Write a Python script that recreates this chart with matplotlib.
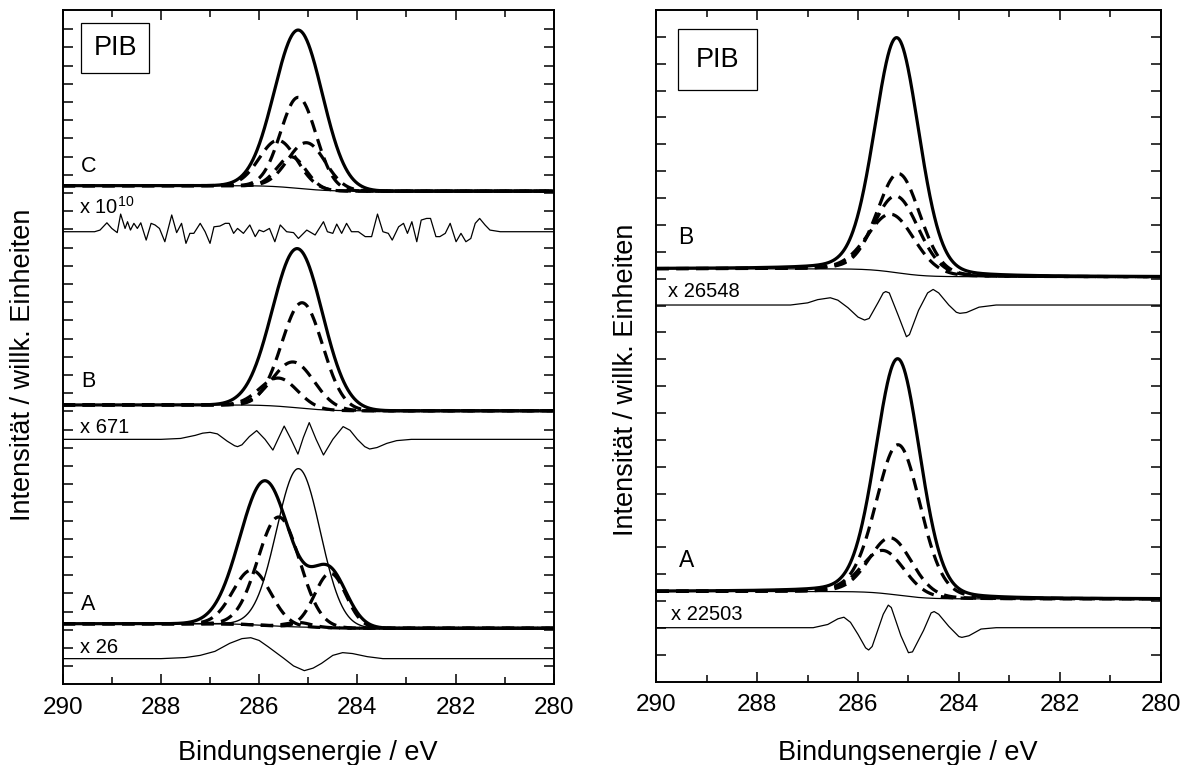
import numpy as np
import matplotlib
matplotlib.use("Agg")
import matplotlib.pyplot as plt
from matplotlib.patches import Rectangle

plt.rcParams['font.family'] = ['Liberation Sans', 'DejaVu Sans']
plt.rcParams['mathtext.fontset'] = 'custom'
plt.rcParams['mathtext.rm'] = 'Liberation Sans'

# ---------------- data ----------------
x_ticks = [290, 288, 286, 284, 282, 280]
x_tick_labels = ["290", "288", "286", "284", "282", "280"]

# Peak-fit parameters: centre (eV), height (a.u.), FWHM (eV)
# Left panel, spectrum C
lC_bg = [27.40, 27.10]                       # background level at 290 / 280 eV
lC_env_c = [285.20]; lC_env_h = [8.70]; lC_env_w = [1.15]
lC_cmp_c = [285.20, 285.61, 285.03, 285.34]
lC_cmp_h = [5.00, 2.55, 2.55, 1.70]
lC_cmp_w = [0.85, 0.90, 0.90, 0.70]
lC_res_e = [290.0, 289.35, 289.24, 289.10, 289.00, 288.89, 288.82, 288.73, 288.68, 288.62,
            288.55, 288.48, 288.41, 288.30, 288.20, 288.12, 288.03, 287.92, 287.78,
            287.68, 287.58, 287.49, 287.41, 287.33, 287.20, 287.10, 287.00, 286.92,
            286.80, 286.69, 286.61, 286.52, 286.44, 286.32, 286.19, 286.08, 286.00,
            285.91, 285.79, 285.68, 285.57, 285.44, 285.30, 285.20, 285.03, 284.86,
            284.69, 284.61, 284.50, 284.42, 284.32, 284.22, 284.12, 283.98, 283.84,
            283.71, 283.59, 283.48, 283.37, 283.29, 283.16, 283.06, 282.98, 282.89,
            282.79, 282.70, 282.59, 282.51, 282.40, 282.32, 282.21, 282.11, 281.99,
            281.89, 281.79, 281.69, 281.60, 281.51, 281.40, 281.30, 281.09, 280.0]
lC_res_v = [0.0, 0.0, 0.09, 0.49, 0.18, -0.05, 0.97, 0.18, 0.55, 0.09,
            0.46, 0.18, 0.49, -0.46, 0.46, 0.37, 0.18, -0.55, 0.92,
            -0.05, 0.46, -0.64, -0.09, -0.09, 0.46, 0.0, -0.64, 0.27,
            0.31, 0.46, 0.46, -0.09, 0.18, -0.09, 0.37, -0.27, 0.09,
            0.0, 0.18, -0.55, 0.37, 0.0, -0.05, -0.37, 0.09, -0.18,
            0.55, 0.0, -0.09, 0.42, -0.09, 0.46, 0.0, 0.0, -0.27,
            -0.27, 0.97, 0.0, -0.09, -0.46, 0.27, 0.46, -0.09, 0.55,
            -0.55, 0.64, 0.73, 0.73, -0.27, -0.27, -0.09, 0.46, -0.55,
            -0.09, -0.55, -0.37, 0.46, 0.73, 0.37, 0.09, 0.0, 0.0]

# Left panel, spectrum B
lB_bg = [15.35, 15.03]
lB_env_c = [285.22]; lB_env_h = [8.75]; lB_env_w = [1.20]
lB_cmp_c = [285.12, 285.30, 285.60]
lB_cmp_h = [5.80, 2.50, 1.55]
lB_cmp_w = [0.98, 1.00, 0.90]
lB_res_e = [290.0, 288.0, 287.6, 287.3, 287.15, 287.0, 286.85, 286.65, 286.5, 286.44,
            286.35, 286.2, 286.05, 285.88, 285.72, 285.60, 285.49, 285.35, 285.21,
            285.10, 284.98, 284.84, 284.69, 284.50, 284.29, 284.15, 284.0, 283.85,
            283.75, 283.6, 283.4, 283.2, 282.9, 280.0]
lB_res_v = [0.0, 0.0, 0.05, 0.22, 0.34, 0.385, 0.30, -0.10, -0.35, -0.40,
            -0.30, 0.15, 0.48, 0.0, -0.59, 0.10, 0.73, 0.0, -0.81,
            0.10, 0.92, 0.0, -0.86, 0.0, 0.70, 0.50, 0.0, -0.40,
            -0.53, -0.45, -0.22, -0.07, 0.0, 0.0]

# Left panel, spectrum A
lA_bg = [3.33, 3.08]
lA_env_c = [285.88, 284.58]; lA_env_h = [7.95, 3.10]; lA_env_w = [1.20, 0.85]
lA_ref_c = [285.20]; lA_ref_h = [8.70]; lA_ref_w = [1.05]      # thin solid peak
lA_cmp_c = [285.60, 286.15, 284.55, 285.20]
lA_cmp_h = [6.00, 3.00, 3.00, 0.25]
lA_cmp_w = [1.00, 0.90, 0.75, 0.60]
lA_res_e = [290.0, 288.0, 287.5, 287.2, 286.9, 286.6, 286.35, 286.17, 286.0, 285.82,
            285.5, 285.3, 285.08, 284.9, 284.73, 284.5, 284.3, 284.1, 283.8, 283.48,
            283.0, 280.0]
lA_res_v = [0.0, 0.0, 0.06, 0.18, 0.40, 0.84, 1.10, 1.15, 1.00, 0.66,
            0.02, -0.40, -0.66, -0.52, -0.26, 0.18, 0.33, 0.28, 0.11, 0.0,
            0.0, 0.0]

# Right panel, spectrum B
rB_bg = [15.37, 15.07]
rB_env_c = [285.23]; rB_env_h = [8.75]; rB_env_w = [1.04]
rB_cmp_c = [285.19, 285.24, 285.34]
rB_cmp_h = [3.70, 2.85, 2.15]
rB_cmp_w = [1.00, 1.05, 1.10]
rB_res_e = [290.0, 287.34, 287.0, 286.8, 286.55, 286.4, 286.2, 286.0, 285.87, 285.78,
            285.6, 285.5, 285.45, 285.38, 285.2, 285.04, 284.98, 284.8, 284.62,
            284.51, 284.4, 284.2, 284.05, 283.98, 283.85, 283.6, 283.26, 280.0]
rB_res_v = [0.0, 0.0, 0.08, 0.20, 0.27, 0.18, -0.10, -0.45, -0.56, -0.50,
            0.10, 0.45, 0.50, 0.45, -0.40, -1.18, -1.10, -0.20, 0.45,
            0.58, 0.45, 0.0, -0.27, -0.31, -0.28, -0.08, 0.0, 0.0]

# Right panel, spectrum A
rA_bg = [3.36, 3.08]
rA_env_c = [285.21]; rA_env_h = [8.80]; rA_env_w = [1.04]
rA_cmp_c = [285.20, 285.35, 285.50]
rA_cmp_h = [5.60, 2.10, 1.60]
rA_cmp_w = [1.04, 1.00, 1.00]
rA_res_e = [290.0, 286.89, 286.6, 286.4, 286.28, 286.15, 286.0, 285.85, 285.79, 285.72,
            285.5, 285.40, 285.34, 285.15, 285.00, 284.92, 284.7, 284.55, 284.49,
            284.4, 284.2, 284.0, 283.94, 283.8, 283.56, 283.26, 280.0]
rA_res_v = [0.0, 0.0, 0.12, 0.33, 0.39, 0.20, -0.25, -0.75, -0.83, -0.70,
            0.50, 0.84, 0.75, -0.30, -0.93, -0.90, -0.10, 0.55, 0.60,
            0.50, 0.05, -0.33, -0.36, -0.30, -0.05, 0.0, 0.0]

# Lorentzian fraction of the line shapes (left panel, right panel)
lorentz_frac = [0.0, 0.15]

# ---------------- helpers ----------------
E = np.linspace(290, 280, 1201)


def peaks(c, h, w, m=0.0):
    out = np.zeros_like(E)
    for ci, hi, wi in zip(c, h, w):
        g = np.exp(-4 * np.log(2) * (E - ci) ** 2 / wi ** 2)
        lo = 1.0 / (1.0 + 4 * (E - ci) ** 2 / wi ** 2)
        out += hi * ((1 - m) * g + m * lo)
    return out


def shirley(bg, env):
    cum = np.cumsum(env[::-1])[::-1]
    return bg[1] + (bg[0] - bg[1]) * cum / cum[0]


DASH = (0, (3.9, 2.3))
TH = 2.3
TN = 0.9


def spectrum(ax, bg, ec, eh, ew, cc, ch, cw, m=0.0, ref=None):
    env = peaks(ec, eh, ew, m)
    b = shirley(bg, env)
    ax.plot(E, b, color='black', lw=TN, zorder=2)
    if ref is not None:
        ax.plot(E, b + peaks(*ref, m), color='black', lw=TN * 1.1, zorder=2)
    for c, h, w in zip(cc, ch, cw):
        ax.plot(E, b + peaks([c], [h], [w], m), color='black', lw=TH,
                linestyle=DASH, zorder=3)
    ax.plot(E, b + env, color='black', lw=TH, zorder=4)


def residual(ax, e, v, offset):
    ax.plot(e, np.asarray(v) + offset, color='black', lw=TN, zorder=2)


def style(ax, ymax, yticks):
    ax.set_xlim(290, 280)
    ax.set_ylim(0, ymax)
    ax.set_xticks(x_ticks)
    ax.set_xticklabels(x_tick_labels, fontsize=17.5)
    ax.set_xticks(np.arange(280, 291, 1), minor=True)
    ax.set_yticks(yticks)
    ax.set_yticklabels([])
    ax.tick_params(axis='x', which='major', direction='in', top=True, bottom=True,
                   length=7, width=1.1, pad=9)
    ax.tick_params(axis='x', which='minor', direction='in', top=True, bottom=True,
                   length=4.8, width=1.1)
    ax.tick_params(axis='y', which='major', direction='in', left=True, right=True,
                   length=7, width=1.1)
    for s in ax.spines.values():
        s.set_linewidth(1.4)


W, H = 1197, 765
fig = plt.figure(figsize=(W / 100, H / 100), dpi=100)

axL = fig.add_axes([62.7 / W, 1 - 684.3 / H, (553.8 - 62.7) / W, (684.3 - 9.7) / H])
axR = fig.add_axes([656.4 / W, 1 - 681.7 / H, (1160.5 - 656.4) / W, (681.7 - 10.0) / H])

# left panel
mL, mR = lorentz_frac
spectrum(axL, lC_bg, lC_env_c, lC_env_h, lC_env_w, lC_cmp_c, lC_cmp_h, lC_cmp_w, mL)
residual(axL, lC_res_e, lC_res_v, 24.87)
spectrum(axL, lB_bg, lB_env_c, lB_env_h, lB_env_w, lB_cmp_c, lB_cmp_h, lB_cmp_w, mL)
residual(axL, lB_res_e, lB_res_v, 13.46)
spectrum(axL, lA_bg, lA_env_c, lA_env_h, lA_env_w, lA_cmp_c, lA_cmp_h, lA_cmp_w, mL,
         ref=(lA_ref_c, lA_ref_h, lA_ref_w))
residual(axL, lA_res_e, lA_res_v, 1.41)
style(axL, 37.07, list(range(1, 37)))

# right panel
spectrum(axR, rB_bg, rB_env_c, rB_env_h, rB_env_w, rB_cmp_c, rB_cmp_h, rB_cmp_w, mR)
residual(axR, rB_res_e, rB_res_v, 14.02)
spectrum(axR, rA_bg, rA_env_c, rA_env_h, rA_env_w, rA_cmp_c, rA_cmp_h, rA_cmp_w, mR)
residual(axR, rA_res_e, rA_res_v, 2.01)
style(axR, 25.0, list(range(1, 25)))

# labels in left panel
lab = dict(va='baseline', ha='left', color='black')
axL.text(289.62, 28.17, "C", fontsize=15.5, **lab)
axL.text(289.62, 16.33, "B", fontsize=15.5, **lab)
axL.text(289.62, 4.08, "A", fontsize=15.5, **lab)
axL.text(289.66, 25.84, r"x 10$^{10}$", fontsize=14.5, **lab)
axL.text(289.64, 13.79, "x 671", fontsize=14.5, **lab)
axL.text(289.64, 1.70, "x 26", fontsize=14.5, **lab)

# labels in right panel
axR.text(289.57, 16.30, "B", fontsize=16.5, **lab)
axR.text(289.55, 4.28, "A", fontsize=16.5, **lab)
axR.text(289.76, 14.33, "x 26548", fontsize=14.5, **lab)
axR.text(289.72, 2.30, "x 22503", fontsize=14.5, **lab)

# PIB boxes
for (x0, y0, x1, y1) in [(81, 23.3, 149.3, 72.7), (678, 29.3, 757.3, 90.0)]:
    fig.patches.append(Rectangle((x0 / W, 1 - y1 / H), (x1 - x0) / W, (y1 - y0) / H,
                                 transform=fig.transFigure, fill=False,
                                 edgecolor='black', lw=0.9))
    fig.text((x0 + x1) / 2 / W, 1 - (y0 + y1) / 2 / H, "PIB", fontsize=19.5,
             ha='center', va='center')

# axis labels
fig.text(308 / W, 1 - 760 / H, "Bindungsenergie / eV", fontsize=19.5,
         ha='center', va='baseline')
fig.text(908 / W, 1 - 760 / H, "Bindungsenergie / eV", fontsize=19.5,
         ha='center', va='baseline')
fig.text(23 / W, 1 - 365 / H, "Intensität / willk. Einheiten", fontsize=19.5,
         rotation=90, ha='center', va='center')
fig.text(626 / W, 1 - 380 / H, "Intensität / willk. Einheiten", fontsize=19.5,
         rotation=90, ha='center', va='center')

fig.savefig("out.png", dpi=100)
